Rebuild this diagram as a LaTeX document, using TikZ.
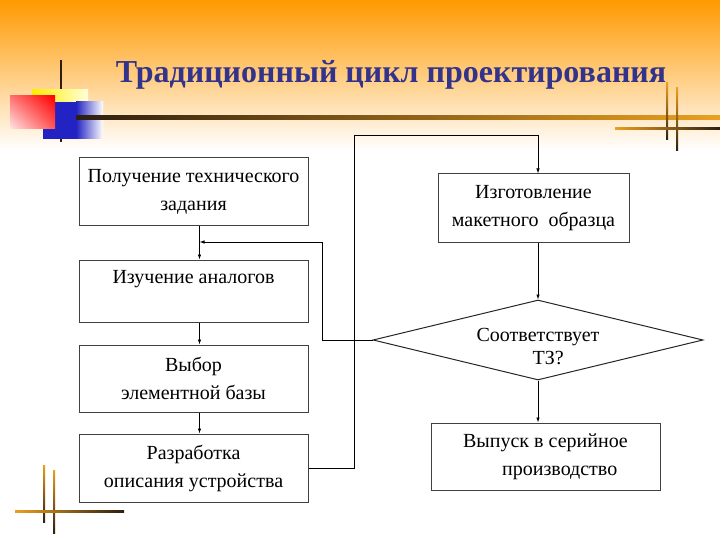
\documentclass[tikz,border=0pt]{standalone}
\usepackage{fontspec}
\setmainfont{Liberation Serif}
\usetikzlibrary{positioning}
\usetikzlibrary{shapes.geometric}
\usetikzlibrary{shadings}
\usetikzlibrary{arrows.meta}
\definecolor{titleblue}{RGB}{51,51,140}
\definecolor{bgorange}{RGB}{255,153,0}
\definecolor{lineorange}{RGB}{235,160,30}
\definecolor{linedark}{RGB}{45,30,15}
\definecolor{sqblue}{RGB}{35,35,195}

\begin{document}
\begin{tikzpicture}[x=1pt, y=-1pt,
    box/.style={draw=black!75, line width=1pt, minimum width=229pt, minimum height=68pt,
        inner sep=0pt, align=center, font=\fontsize{20}{28}\selectfont},
    decision/.style={draw=black!85, line width=1pt, shape=diamond, aspect=4.1,
        minimum width=330pt, minimum height=80pt, inner sep=0pt},
    arr/.style={-{Latex[length=5pt,width=3.5pt]}, line width=0.8pt}]
    \useasboundingbox (0,0) rectangle (720,540);

    % Background
    \fill[white] (0,0) rectangle (720,540);
    \shade[top color=bgorange, middle color=bgorange!35, bottom color=white] (0,0) rectangle (720,150);

    % Squares on the left
    \fill[linedark] (60,60) rectangle (62,142);
    \shade[left color=yellow!85!orange, right color=yellow!15] (32,90) rectangle (88,128);
    \fill[sqblue] (43,102) rectangle (76,139);
    \shade[left color=sqblue, right color=white] (76,102) rectangle (103,139);
    \shade[upper left=red!55, upper right=red, lower left=red!10, lower right=red!65] (10,96) rectangle (55,129);

    % Lines
    \shade[left color=linedark, right color=lineorange] (76,116) rectangle (720,120);
    \shade[top color=lineorange, bottom color=linedark] (666,83) rectangle (668,140);
    \shade[top color=lineorange, bottom color=linedark] (676,88) rectangle (678,151);
    \shade[left color=lineorange, right color=linedark] (615,128) rectangle (720,130);
    \shade[top color=lineorange, bottom color=linedark] (43,465) rectangle (45,522);
    \shade[top color=lineorange, bottom color=linedark] (53,470) rectangle (55,533);
    \shade[left color=lineorange, right color=linedark] (15,510) rectangle (124,512);

    % Title
    \node[font=\fontsize{32}{34}\selectfont\bfseries, text=titleblue, anchor=base] (title) at (391,83)
        {Традиционный цикл проектирования};

    % Left column
    \node[box] (b1) at (193.5,192) {Получение технического\\задания};
    \node[box, minimum height=62pt] (b2) at (193.5,291) {Изучение аналогов\\\mbox{}};
    \node[box, minimum height=67pt] (b3) at (193.5,378.5) {Выбор\\элементной базы};
    \node[box] (b4) at (193.5,468) {Разработка\\описания устройства};

    % Right column
    \node[box, minimum width=191pt] (b5) at (533.5,208) {Изготовление\\макетного\ \ образца};
    \node[decision] (q) at (538,340) {};
    \node[align=left, inner sep=0pt, font=\fontsize{20}{23}\selectfont] (qtext) at (538,347)
        {Соответствует\\\hspace*{56pt}ТЗ?};
    \node[box, minimum height=67pt, align=left] (b6) at (545.5,456.5)
        {Выпуск в серийное\\\hspace*{39pt}производство};

    % Arrows
    \draw[arr] ([xshift=6pt]b1.south) -- ([xshift=6pt]b2.north);
    \draw[arr] ([xshift=6pt]b2.south) -- ([xshift=6pt]b3.north);
    \draw[arr] ([xshift=6pt]b3.south) -- ([xshift=6pt]b4.north);
    \coordinate (over) at (354,135);
    \draw[arr] (b4.east) -| (over) -| ([xshift=4.5pt]b5.north);
    \draw[arr] ([xshift=4.5pt]b5.south) -- (q.north);
    \draw[arr] (q.south) -- ([xshift=-7.5pt]b6.north);

    % Back to the analogues
    \coordinate (back) at (322,242);
    \coordinate (join) at (199.5,242);
    \draw[arr] (q.west) -| (back) -- (join);
\end{tikzpicture}
\end{document}
